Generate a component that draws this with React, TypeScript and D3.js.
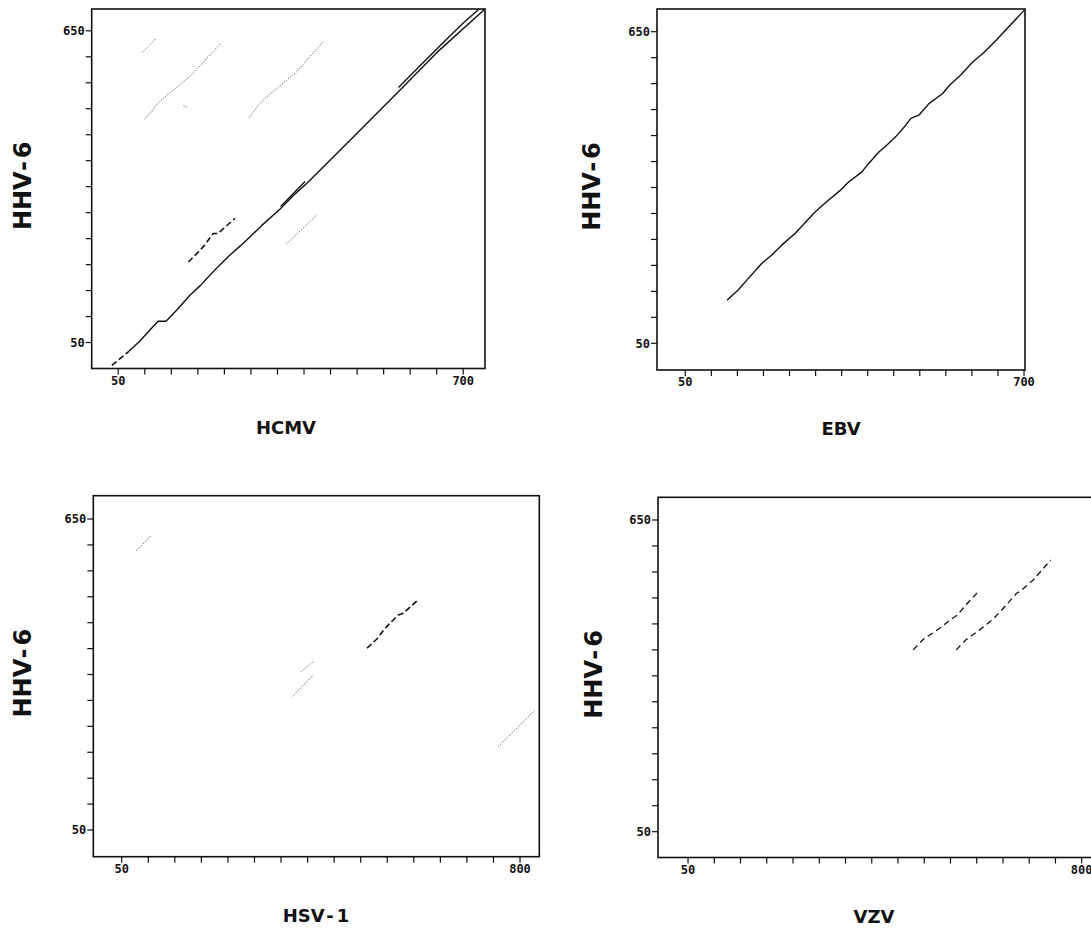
import * as d3 from 'd3';

type Pt = [number, number];

// HHV-6 (y) against HCMV (x)
const hcmvStart: Pt[] = [[38, 6], [70, 33]];
const hcmvMain: Pt[] = [[70, 33], [90, 52], [108, 72], [125, 91], [140, 91], [160, 112], [185, 141], [205, 160], [223, 180], [240, 198], [260, 218], [280, 236], [298, 253], [320, 275], [355, 307], [380, 333], [405, 356], [449, 401], [500, 453], [581, 536], [650, 608], [741, 692]];
const hcmvTwinA: Pt[] = [[356, 312], [380, 337], [402, 360]];
const hcmvTwinB: Pt[] = [[578, 541], [620, 584], [660, 625], [700, 665], [730, 692]];
const hcmvDotA: Pt[] = [[96, 609], [121, 635]];
const hcmvDotB: Pt[] = [[100, 481], [113, 494], [121, 507], [138, 523], [185, 562], [243, 626]];
const hcmvDotSpeck: Pt[] = [[173, 506], [179, 503]];
const hcmvDotC: Pt[] = [[297, 483], [314, 507], [330, 523], [386, 571], [436, 629]];
const hcmvDashD: Pt[] = [[182, 205], [210, 234], [229, 260], [238, 260], [270, 289]];
const hcmvDotE: Pt[] = [[367, 240], [424, 295]];

// HHV-6 against EBV
const ebvMain: Pt[] = [[130, 133], [152, 153], [171, 175], [197, 204], [216, 220], [235, 239], [261, 262], [299, 303], [325, 326], [348, 345], [364, 361], [389, 380], [399, 393], [422, 419], [434, 429], [454, 448], [473, 470], [483, 483], [499, 490], [518, 512], [544, 531], [557, 547], [579, 567], [602, 592], [621, 608], [647, 634], [701, 692]];

// HHV-6 against HSV-1
const hsvDotA: Pt[] = [[77, 588], [106, 619]];
const hsvDash: Pt[] = [[512, 401], [530, 418], [546, 439], [555, 449], [571, 465], [580, 468], [606, 492]];
const hsvDotB: Pt[] = [[387, 355], [411, 375]];
const hsvDotC: Pt[] = [[372, 308], [411, 350]];
const hsvDotD: Pt[] = [[759, 211], [828, 281]];

// HHV-6 against VZV
const vzvDashA: Pt[] = [[479, 400], [498, 420], [514, 431], [534, 445], [550, 458], [563, 467], [579, 486], [601, 510]];
const vzvDashB: Pt[] = [[561, 400], [579, 419], [605, 438], [630, 458], [656, 486], [676, 509], [682, 512], [708, 535], [741, 573]];

const yTickValues = d3.range(50, 651, 50);
const yLabels = [50, 650];

type Kind = 'solid' | 'dash' | 'longdash' | 'dot';
const strokeFor: Record<Kind, { stroke: string; width: number; dash?: string }> = {
  solid: { stroke: '#111', width: 1.4 },
  dash: { stroke: '#111', width: 1.6, dash: '6 3' },
  longdash: { stroke: '#111', width: 1.3, dash: '6 4' },
  dot: { stroke: '#444', width: 1, dash: '1 1.5' },
};

const monoFont = "'DejaVu Sans Mono', monospace";
const titleFont = "'DejaVu Sans', 'Liberation Sans', sans-serif";

interface PanelProps {
  box: { left: number; top: number; right: number; bottom: number };
  xDomain: [number, number];
  yDomain: [number, number];
  xTickMax: number;
  series: { data: Pt[]; kind: Kind }[];
  xTitle: React.ReactNode;
  xTitleX: number;
  yTitleX: number;
}

function Panel({ box, xDomain, yDomain, xTickMax, series, xTitle, xTitleX, yTitleX }: PanelProps) {
  const x = d3.scaleLinear().domain(xDomain).range([box.left, box.right]);
  const y = d3.scaleLinear().domain(yDomain).range([box.bottom, box.top]);
  const line = d3.line<Pt>().x(d => x(d[0])).y(d => y(d[1]));
  const xTicks = d3.range(50, xTickMax + 1, 50);
  const xLabels = [50, xTickMax];
  const midY = (box.top + box.bottom) / 2;

  return (
    <g>
      {series.map((s, i) => {
        const st = strokeFor[s.kind];
        return (
          <path key={i} d={line(s.data) || ''} fill="none" stroke={st.stroke}
            strokeWidth={st.width} strokeDasharray={st.dash} strokeLinejoin="round" />
        );
      })}
      <rect x={box.left} y={box.top} width={box.right - box.left} height={box.bottom - box.top}
        fill="none" stroke="#111" strokeWidth={1.6} />
      {yTickValues.map(v => (
        <line key={'y' + v} x1={box.left - 6} x2={box.left} y1={y(v)} y2={y(v)} stroke="#111" strokeWidth={1.2} />
      ))}
      {yLabels.map(v => (
        <text key={'yl' + v} x={box.left - 7} y={y(v)} dy="0.36em" textAnchor="end"
          fontFamily={monoFont} fontWeight="bold" fontSize={12} fill="#111">{v}</text>
      ))}
      {xTicks.map(v => (
        <line key={'x' + v} x1={x(v)} x2={x(v)} y1={box.bottom} y2={box.bottom + 6} stroke="#111" strokeWidth={1.2} />
      ))}
      {xLabels.map(v => (
        <text key={'xl' + v} x={x(v)} y={box.bottom + 16} textAnchor="middle"
          fontFamily={monoFont} fontWeight="bold" fontSize={12} fill="#111">{v}</text>
      ))}
      <text x={xTitleX} y={box.bottom + 65} textAnchor="middle"
        fontFamily={titleFont} fontWeight="bold" fontSize={18} fill="#111">{xTitle}</text>
      <text transform={`translate(${yTitleX},${midY - 3}) rotate(-90)`} textAnchor="middle"
        fontFamily={titleFont} fontWeight="bold" fontSize={24} fill="#111">
        HHV<tspan dx={2}>-</tspan><tspan dx={3}>6</tspan>
      </text>
    </g>
  );
}

export default function App() {
  return (
    <div style={{ position: 'absolute', left: 0, top: 0 }}>
      <svg width={1091} height={928} style={{ display: 'block', background: '#fff' }}>
        <Panel
          box={{ left: 91.7, top: 9, right: 485, bottom: 368.5 }}
          xDomain={[0, 741]} yDomain={[0, 692]} xTickMax={700}
          series={[
            { data: hcmvStart, kind: 'dash' },
            { data: hcmvMain, kind: 'solid' },
            { data: hcmvTwinA, kind: 'solid' },
            { data: hcmvTwinB, kind: 'solid' },
            { data: hcmvDotA, kind: 'dot' },
            { data: hcmvDotB, kind: 'dot' },
            { data: hcmvDotSpeck, kind: 'dot' },
            { data: hcmvDotC, kind: 'dot' },
            { data: hcmvDashD, kind: 'dash' },
            { data: hcmvDotE, kind: 'dot' },
          ]}
          xTitle="HCMV" xTitleX={286} yTitleX={31}
        />
        <Panel
          box={{ left: 657, top: 9, right: 1025, bottom: 370 }}
          xDomain={[-4.3, 701.9]} yDomain={[-1.4, 693.7]} xTickMax={700}
          series={[{ data: ebvMain, kind: 'solid' }]}
          xTitle="EBV" xTitleX={841} yTitleX={600}
        />
        <Panel
          box={{ left: 93.3, top: 495.7, right: 539.3, bottom: 856.7 }}
          xDomain={[-3.5, 836.3]} yDomain={[-1.5, 695]} xTickMax={800}
          series={[
            { data: hsvDotA, kind: 'dot' },
            { data: hsvDash, kind: 'dash' },
            { data: hsvDotB, kind: 'dot' },
            { data: hsvDotC, kind: 'dot' },
            { data: hsvDotD, kind: 'dot' },
          ]}
          xTitle={<>HSV<tspan dx={3}>-</tspan><tspan dx={3}>1</tspan></>} xTitleX={316} yTitleX={31}
        />
        <Panel
          box={{ left: 658, top: 497.3, right: 1100.6, bottom: 857.5 }}
          xDomain={[-7.2, 836]} yDomain={[0.3, 693.7]} xTickMax={800}
          series={[
            { data: vzvDashA, kind: 'longdash' },
            { data: vzvDashB, kind: 'longdash' },
          ]}
          xTitle="VZV" xTitleX={874} yTitleX={602}
        />
      </svg>
    </div>
  );
}
